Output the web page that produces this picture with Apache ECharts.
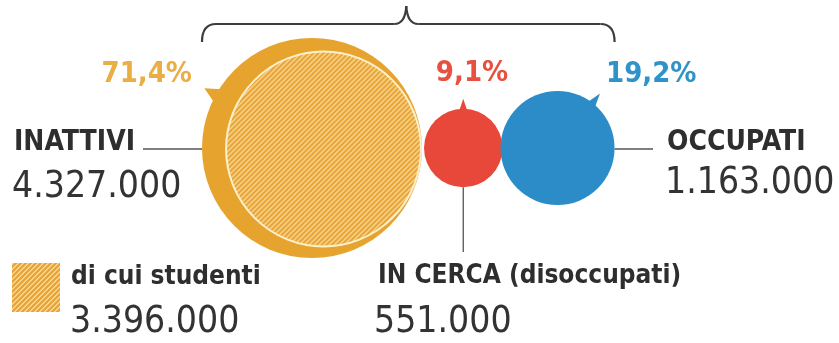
<!DOCTYPE html>
<html>
<head>
<meta charset="utf-8">
<script src="https://cdn.jsdelivr.net/npm/echarts@6/dist/echarts.min.js"></script>
<style>
  html, body { margin: 0; padding: 0; background: #ffffff; }
  #chart { width: 839px; height: 343px; }
</style>
</head>
<body>
<div id="chart"></div>
<script>
// Popolazione per condizione professionale
const categories = ['INATTIVI', 'IN CERCA (disoccupati)', 'OCCUPATI'];
const values = [4327000, 551000, 1163000];
const shares = [71.4, 9.1, 19.2];
const subLabel = 'di cui studenti';
const subValue = 3396000;

const W = 839, H = 343;
const FONT = '"DejaVu Sans Condensed", "DejaVu Sans", sans-serif';
const colors = ['#E6A42E', '#E8483A', '#2B8CC8'];
const shareColors = ['#EBAE45', '#E8503F', '#2F93C9'];
const DARK = '#2E2E2E';

// bubble area proportional to value
const MAX_D = 220;
const diam = v => MAX_D * Math.sqrt(v / values[0]);
const rad = v => diam(v) / 2;

// bubbles packed side by side on a common baseline
const cy = 148;
const r = values.map(rad);
const cx = [];
cx[0] = 312;
cx[1] = cx[0] + r[0] + r[1] + 2;
cx[2] = cx[1] + r[1] + r[2] - 2;
const rs = rad(subValue);
const cxs = cx[0] + r[0] - rs - 1;

const fmt = v => String(v).replace(/\B(?=(\d{3})+(?!\d))/g, '.');
const fmtPct = p => p.toFixed(1).replace('.', ',') + '%';

// diagonal "/" hatch tile, drawn pixel by pixel so it stays crisp
function hatchTile(base, stripe, step, width) {
  const c = document.createElement('canvas');
  c.width = step; c.height = step;
  const g = c.getContext('2d');
  g.fillStyle = base; g.fillRect(0, 0, step, step);
  g.fillStyle = stripe;
  for (let y = 0; y < step; y++) {
    for (let x = 0; x < step; x++) {
      if ((x + y) % step < width) g.fillRect(x, y, 1, 1);
    }
  }
  return c;
}
const tile = hatchTile('#E8A63A', '#F8D48C', 5, 2);
// scatter symbols live in a unit box scaled by size/2, so the tile is scaled back
const hatchFor = size => ({ image: tile, repeat: 'repeat', scaleX: 2 / size, scaleY: 2 / size });
const hatchFlat = { image: tile, repeat: 'repeat' };

const chart = echarts.init(document.getElementById('chart'), null, { renderer: 'canvas' });

function tail(x, y, radius, angDeg, len, half) {
  const a = angDeg * Math.PI / 180;
  const tip = [x + Math.cos(a) * (radius + len), y + Math.sin(a) * (radius + len)];
  const b1 = [x + Math.cos(a - half) * (radius - 2), y + Math.sin(a - half) * (radius - 2)];
  const b2 = [x + Math.cos(a + half) * (radius - 2), y + Math.sin(a + half) * (radius - 2)];
  return [b1, tip, b2];
}

function txt(x, y, text, size, weight, color, align) {
  return {
    type: 'text', x, y, silent: true,
    style: { text, fill: color, font: `${weight} ${size}px ${FONT}`, align: align || 'left', verticalAlign: 'middle' }
  };
}

// curly brace spanning the three bubbles
const left = cx[0] - r[0], right = cx[2] + r[2], mid = (left + right) / 2 - 2;
const bY = 24, bTop = 6, bEnd = 42;
const braceStyle = { stroke: '#3C3C3C', lineWidth: 2.2, fill: null };
const curve = (x1, y1, cpx1, cpy1, x2, y2) =>
  ({ type: 'bezierCurve', shape: { x1, y1, cpx1, cpy1, x2, y2 }, style: braceStyle, silent: true });
const seg = (x1, y1, x2, y2, style) => ({ type: 'line', shape: { x1, y1, x2, y2 }, style, silent: true });
const brace = [
  curve(left, bEnd, left, bY, left + 14, bY),
  seg(left + 14, bY, mid - 12, bY, braceStyle),
  curve(mid - 12, bY, mid - 1, bY, mid, bTop),
  curve(mid, bTop, mid + 1, bY, mid + 12, bY),
  seg(mid + 12, bY, right - 14, bY, braceStyle),
  curve(right - 14, bY, right, bY, right, bEnd)
];

const lineStyle = { stroke: '#555555', lineWidth: 1.3 };
const NUM = '#333333';

const graphic = [
  ...brace,
  { type: 'polygon', shape: { points: tail(cx[0], cy, r[0], 209, 13, 0.07) }, style: { fill: colors[0] }, z: 1 },
  { type: 'polygon', shape: { points: tail(cx[1], cy, r[1], 270, 10, 0.11) }, style: { fill: colors[1] }, z: 1 },
  { type: 'polygon', shape: { points: tail(cx[2], cy, r[2], 308, 12, 0.08) }, style: { fill: colors[2] }, z: 1 },
  seg(143, cy + 1, left, cy + 1, lineStyle),
  seg(right, cy + 1, 653, cy + 1, lineStyle),
  seg(cx[1], cy + r[1], cx[1], 252, lineStyle),
  txt(192, 74, fmtPct(shares[0]), 29, 'bold', shareColors[0], 'right'),
  txt(472, 73, fmtPct(shares[1]), 29, 'bold', shareColors[1], 'center'),
  txt(606, 74, fmtPct(shares[2]), 29, 'bold', shareColors[2], 'left'),
  txt(14, 143, categories[0], 28, 'bold', DARK),
  txt(12, 187, fmt(values[0]), 37, 'normal', NUM),
  txt(667, 143, categories[2], 28, 'bold', DARK),
  txt(665, 183, fmt(values[2]), 37, 'normal', NUM),
  txt(71, 277, subLabel, 26, 'bold', DARK),
  txt(70, 322, fmt(subValue), 37, 'normal', NUM),
  txt(378, 276, categories[1], 26, 'bold', DARK),
  txt(374, 322, fmt(values[1]), 37, 'normal', NUM),
  { type: 'rect', shape: { x: 12, y: 263, width: 48, height: 49 }, style: { fill: hatchFlat } }
];

const studentSize = diam(subValue);

chart.setOption({
  animation: false,
  backgroundColor: '#ffffff',
  grid: { left: 0, right: 0, top: 0, bottom: 0 },
  xAxis: { type: 'value', min: 0, max: W, show: false },
  yAxis: { type: 'value', min: 0, max: H, inverse: true, show: false },
  graphic,
  series: [
    {
      type: 'scatter', name: categories[0], z: 2,
      data: [[cx[0], cy, values[0]]],
      symbolSize: d => diam(d[2]),
      itemStyle: { color: colors[0], opacity: 1 }
    },
    {
      type: 'scatter', name: subLabel, z: 3,
      data: [[cxs, cy + 1, subValue]],
      symbolSize: d => diam(d[2]),
      itemStyle: { color: hatchFor(studentSize), borderColor: '#FCF0CC', borderWidth: 2, opacity: 1 }
    },
    {
      type: 'scatter', name: categories[1], z: 3,
      data: [[cx[1], cy, values[1]]],
      symbolSize: d => diam(d[2]),
      itemStyle: { color: colors[1], opacity: 1 }
    },
    {
      type: 'scatter', name: categories[2], z: 4,
      data: [[cx[2], cy, values[2]]],
      symbolSize: d => diam(d[2]),
      itemStyle: { color: colors[2], opacity: 1 }
    }
  ]
});
</script>
</body>
</html>
